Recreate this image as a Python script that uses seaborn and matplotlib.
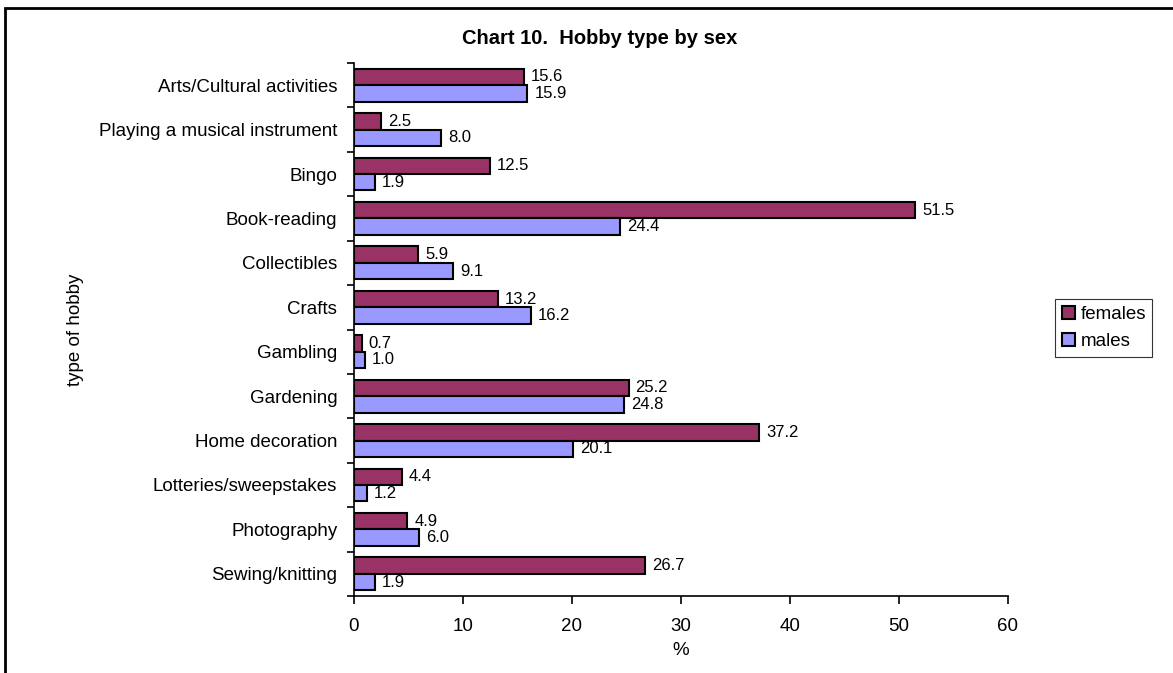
import numpy as np
import pandas as pd
import matplotlib
matplotlib.use("Agg")
import matplotlib.pyplot as plt
from matplotlib.patches import Rectangle
import seaborn as sns

sns.set_style("white")
plt.rcParams["font.family"] = ["Liberation Sans", "DejaVu Sans"]
plt.rcParams["text.color"] = "black"
plt.rcParams["axes.labelcolor"] = "black"
plt.rcParams["xtick.color"] = "black"
plt.rcParams["ytick.color"] = "black"

# Chart values
hobbies = ["Arts/Cultural activities", "Playing a musical instrument", "Bingo",
           "Book-reading", "Collectibles", "Crafts", "Gambling", "Gardening",
           "Home decoration", "Lotteries/sweepstakes", "Photography", "Sewing/knitting"]
females = [15.6, 2.5, 12.5, 51.5, 5.9, 13.2, 0.7, 25.2, 37.2, 4.4, 4.9, 26.7]
males = [15.9, 8.0, 1.9, 24.4, 9.1, 16.2, 1.0, 24.8, 20.1, 1.2, 6.0, 1.9]

df = pd.DataFrame({
    "hobby": hobbies * 2,
    "value": females + males,
    "sex": ["females"] * len(hobbies) + ["males"] * len(hobbies),
})

fig = plt.figure(figsize=(11.73, 6.73), dpi=100)
ax = fig.add_axes([354 / 1173, 1 - 596 / 673, (1008 - 354) / 1173, (596 - 63) / 673])

sns.barplot(data=df, x="value", y="hobby", hue="sex", orient="h",
            palette={"females": "#993366", "males": "#9999FF"}, saturation=1,
            edgecolor="black", linewidth=1.5, width=0.74, ax=ax, legend=True)

for cont in ax.containers:
    ax.bar_label(cont, fmt="%.1f", padding=5, fontsize=12)

ax.set_xlim(0, 60)
ax.set_ylim(len(hobbies) - 0.5, -0.5)
ax.set_xticks(np.arange(0, 61, 10))
ax.set_xlabel("%", fontsize=13.5, labelpad=5)
ax.set_ylabel("type of hobby", fontsize=13.5)
ax.yaxis.set_label_coords((84 - 354) / 654, 0.5)

# title is centred on the whole chart area, not the plot area
fig.text(600 / 1173, 1 - 39 / 673, "Chart 10.  Hobby type by sex",
         fontsize=14.5, fontweight="bold", ha="center", va="center")

ax.tick_params(axis="x", length=6, width=1.2, direction="out", labelsize=13.5, pad=10, bottom=True)
ax.tick_params(axis="y", which="major", length=0, labelsize=13.5, pad=12)
ax.set_yticks(np.arange(-0.5, len(hobbies)), minor=True)
ax.tick_params(axis="y", which="minor", length=5, width=1.2, direction="out", left=True)

for s in ["top", "right"]:
    ax.spines[s].set_visible(False)
for s in ["left", "bottom"]:
    ax.spines[s].set_color("black")
    ax.spines[s].set_linewidth(1.2)

leg = ax.legend(loc="center left", bbox_to_anchor=(1055 / 1173, 1 - 328 / 673),
                bbox_transform=fig.transFigure, frameon=True, fancybox=False,
                fontsize=13.5, handlelength=0.7, handleheight=0.7, handletextpad=0.3,
                borderpad=0.35, labelspacing=0.55, borderaxespad=0)
leg.get_frame().set_edgecolor("black")
leg.get_frame().set_linewidth(0.8)

# outer frame around the chart area
fig.patches.append(Rectangle((5 / 1173, -0.05), 1.1, 1 - 8 / 673 + 0.05,
                             transform=fig.transFigure, fill=False,
                             edgecolor="black", linewidth=2, clip_on=False))

fig.savefig("out.png", dpi=100)
